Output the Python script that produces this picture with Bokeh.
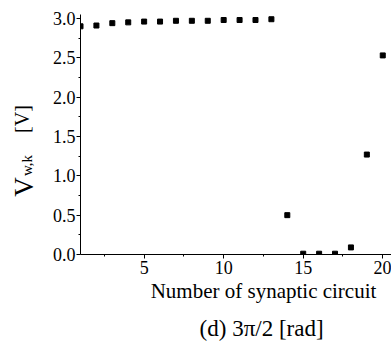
import math
from bokeh.plotting import figure
from bokeh.layouts import row, column
from bokeh.models import Range1d, FixedTicker, CustomJSTickFormatter
from bokeh.core.properties import value
from bokeh.embed import file_html
from bokeh.resources import INLINE

circuit = list(range(1, 21))
v_wk = [2.90, 2.91, 2.94, 2.95, 2.96, 2.96, 2.97, 2.97, 2.97, 2.98,
        2.98, 2.98, 2.99, 0.50, 0.01, 0.01, 0.01, 0.09, 1.27, 2.53]
x_ticks = [5, 10, 15, 20]
x_minor = [2.5, 7.5, 12.5, 17.5]
y_ticks = [0.0, 0.5, 1.0, 1.5, 2.0, 2.5, 3.0]
y_minor = [0.25, 0.75, 1.25, 1.75, 2.25, 2.75]
x_title = "Number of synaptic circuit"
caption = "(d)  3\u03c0/2 [rad]"

FONT = "Liberation Serif"
W, H = 391, 343
LW = 40            # width of y-label strip
MH = 282           # height of main plot area (incl. tick labels)


def blank(w, h):
    f = figure(frame_width=w, frame_height=h, output_backend="svg", toolbar_location=None,
               title=None, x_range=Range1d(0, w), y_range=Range1d(0, h),
               x_axis_location=None, y_axis_location=None,
               min_border=0, min_border_left=0, min_border_right=0,
               min_border_top=0, min_border_bottom=0)
    f.grid.visible = False
    f.outline_line_color = None
    f.background_fill_color = "white"
    f.border_fill_color = "white"
    return f


def put(f, x, y, text, size, angle=0.0):
    f.text(x=[x], y=[y], text=[text], angle=angle, text_font=value(FONT),
           text_font_size=size, text_align="center", text_baseline="middle",
           text_color="black")


# main chart: frame from x=80..391, y=14..254 of the page
p = figure(frame_width=W - 80, frame_height=240, output_backend="svg", toolbar_location=None,
           title=None, x_range=Range1d(1, 20.55), y_range=Range1d(0, 3.05),
           min_border_left=80 - LW, min_border_right=0, min_border_top=14,
           min_border_bottom=MH - 14 - 240)
p.outline_line_color = None
p.grid.visible = False
p.background_fill_color = "white"
p.border_fill_color = "white"

p.scatter(circuit, v_wk, marker="square", size=5, color="black")

for ax in (p.xaxis[0], p.yaxis[0]):
    ax.axis_line_color = "black"
    ax.major_tick_line_color = "black"
    ax.minor_tick_line_color = "black"
    ax.major_label_text_font = FONT
    ax.major_label_text_font_size = "18px"
    ax.major_label_text_color = "black"
    ax.major_tick_out = 4
    ax.major_tick_in = 0
    ax.minor_tick_out = 2
    ax.minor_tick_in = 0

p.xaxis.ticker = FixedTicker(ticks=x_ticks, minor_ticks=x_minor)
p.yaxis.ticker = FixedTicker(ticks=y_ticks, minor_ticks=y_minor)
p.xaxis.major_label_standoff = 2
p.yaxis.major_label_standoff = 1
p.yaxis.formatter = CustomJSTickFormatter(code="return tick.toFixed(1);")

# y-label strip: V_{w,k}   [V], rotated (positions are text-box centres, page px)
yl = blank(LW, MH)
rot = math.pi / 2
put(yl, 23, MH - 172.5, "V", "27px", rot)
put(yl, 26.5, MH - 151, "w,k", "15px", rot)
put(yl, 21.7, MH - 104.5, "[V]", "20px", rot)

# bottom strip: x title and caption
BH = H - MH
bt = blank(W, BH)
put(bt, 263, BH - (290.5 - MH), x_title, "21px")
put(bt, 264, BH - (328 - MH), caption, "23px")

layout = column(row(yl, p, spacing=0), bt, spacing=0)
open("out.html", "w").write(file_html(layout, INLINE))
